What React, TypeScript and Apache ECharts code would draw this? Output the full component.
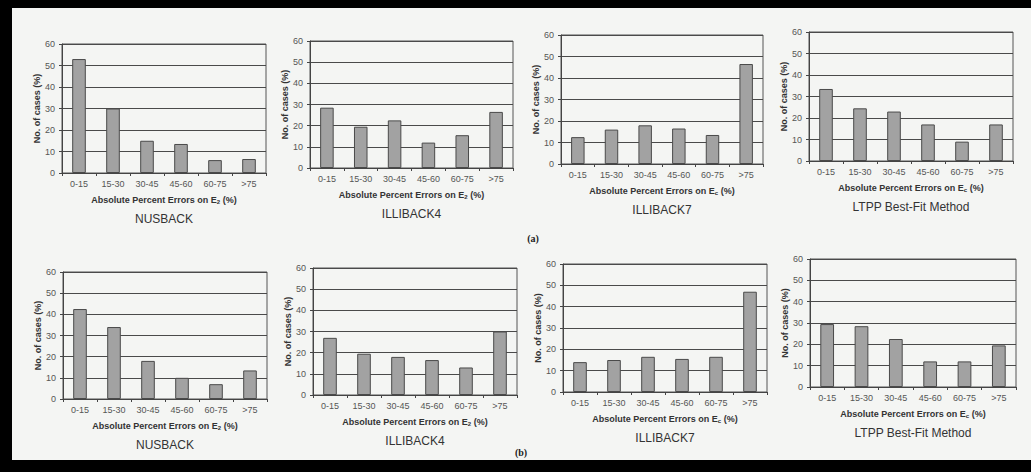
import React, { useEffect, useRef } from "react";
import * as echarts from "echarts";

const categories = ["0-15", "15-30", "30-45", "45-60", "60-75", ">75"];

const nusbackA = [53, 30, 15, 13.5, 6, 6.5];
const illiback4A = [28.5, 19.5, 22.5, 12, 15.5, 26.5];
const illiback7A = [12.5, 16, 18, 16.5, 13.5, 46.5];
const ltppA = [33.5, 24.5, 23, 17, 9, 17];

const nusbackB = [42.5, 34, 18, 10, 7, 13.5];
const illiback4B = [27, 19.5, 18, 16.5, 13, 30];
const illiback7B = [14, 15, 16.5, 15.5, 16.5, 47];
const ltppB = [29.5, 28.5, 22.5, 12, 12, 19.5];

const methodNames = ["NUSBACK", "ILLIBACK4", "ILLIBACK7", "LTPP Best-Fit Method"];
const subscripts = ["2", "2", "c", "c"];
const yMin = 0;
const yMax = 60;
const yStep = 10;
const panelLabels = ["(a)", "(b)"];

const panels = [
  { data: nusbackA, m: 0, box: [62, 44, 204, 129] },
  { data: illiback4A, m: 1, box: [310, 41, 203, 127] },
  { data: illiback7A, m: 2, box: [561, 35, 202, 129] },
  { data: ltppA, m: 3, box: [809, 32, 204, 129] },
  { data: nusbackB, m: 0, box: [63, 272, 204, 127] },
  { data: illiback4B, m: 1, box: [313, 268, 204, 127] },
  { data: illiback7B, m: 2, box: [563, 264, 204, 128] },
  { data: ltppB, m: 3, box: [810, 259, 206, 128] },
];

const FONT = "Liberation Sans, Arial, sans-serif";

export default function App() {
  const ref = useRef<HTMLDivElement>(null);
  useEffect(() => {
    if (!ref.current) return;
    document.body.style.margin = "0";
    document.body.style.background = "#f4f5f3";
    const chart = echarts.init(ref.current, null, { renderer: "svg" });
    const grid: any[] = [];
    const xAxis: any[] = [];
    const yAxis: any[] = [];
    const series: any[] = [];
    const title: any[] = [];
    panels.forEach((p, i) => {
      const [l, t, w, h] = p.box;
      grid.push({
        left: l,
        top: t,
        width: w,
        height: h,
        show: true,
        borderColor: "#555",
        borderWidth: 1,
        backgroundColor: "transparent",
      });
      xAxis.push({
        type: "category",
        gridIndex: i,
        data: categories,
        axisLine: { lineStyle: { color: "#444", width: 1 } },
        axisTick: { show: true, length: 3, lineStyle: { color: "#444" } },
        axisLabel: { color: "#555", fontSize: 9, fontFamily: FONT, margin: 6 },
        name: `{b|Absolute Percent Errors on E}{s|${subscripts[p.m]}}{b| (%)}`,
        nameLocation: "middle",
        nameGap: 21,
        nameTextStyle: {
          rich: {
            b: { fontSize: 9, fontWeight: "bold", color: "#333", fontFamily: FONT },
            s: {
              fontSize: 6,
              fontWeight: "bold",
              color: "#333",
              fontFamily: FONT,
              verticalAlign: "bottom",
              padding: [5, 0, 0, 0],
            },
          },
        },
      });
      yAxis.push({
        type: "value",
        gridIndex: i,
        min: yMin,
        max: yMax,
        interval: yStep,
        axisLine: { show: true, lineStyle: { color: "#444" } },
        axisTick: { show: true, length: 3, lineStyle: { color: "#444" } },
        axisLabel: { color: "#555", fontSize: 9, fontFamily: FONT, margin: 7 },
        splitLine: { show: true, lineStyle: { color: "#4a4a4a", width: 1 } },
        name: "No. of cases (%)",
        nameLocation: "middle",
        nameGap: 21,
        nameTextStyle: { fontSize: 9, fontWeight: "bold", color: "#333", fontFamily: FONT },
      });
      series.push({
        type: "bar",
        xAxisIndex: i,
        yAxisIndex: i,
        data: p.data,
        barWidth: "40%",
        itemStyle: { color: "#a2a2a2", borderColor: "#4a4a4a", borderWidth: 1 },
      });
      title.push({
        text: methodNames[p.m],
        left: l + w / 2,
        top: t + h + 40,
        textAlign: "center",
        textStyle: { fontSize: 12, fontWeight: "normal", color: "#333", fontFamily: FONT },
        padding: 0,
      });
    });

    chart.setOption({
      animation: false,
      backgroundColor: "#f4f5f3",
      title,
      grid,
      xAxis,
      yAxis,
      series,
      graphic: [
        { type: "rect", shape: { x: 0, y: 0, width: 1031, height: 8 }, style: { fill: "#000" } },
        { type: "rect", shape: { x: 0, y: 0, width: 12, height: 472 }, style: { fill: "#000" } },
        { type: "rect", shape: { x: 0, y: 460, width: 1031, height: 12 }, style: { fill: "#000" } },
        {
          type: "text",
          x: 533,
          y: 238,
          style: {
            text: panelLabels[0],
            fontSize: 10,
            fontWeight: "bold",
            fontFamily: "Liberation Serif, serif",
            fill: "#222",
            align: "center",
            verticalAlign: "middle",
          },
        },
        {
          type: "text",
          x: 521,
          y: 452,
          style: {
            text: panelLabels[1],
            fontSize: 10,
            fontWeight: "bold",
            fontFamily: "Liberation Serif, serif",
            fill: "#222",
            align: "center",
            verticalAlign: "middle",
          },
        },
      ],
    });
    return () => chart.dispose();
  }, []);
  return (
    <div
      ref={ref}
      style={{ position: "fixed", left: 0, top: 0, width: 1031, height: 472 }}
    />
  );
}
